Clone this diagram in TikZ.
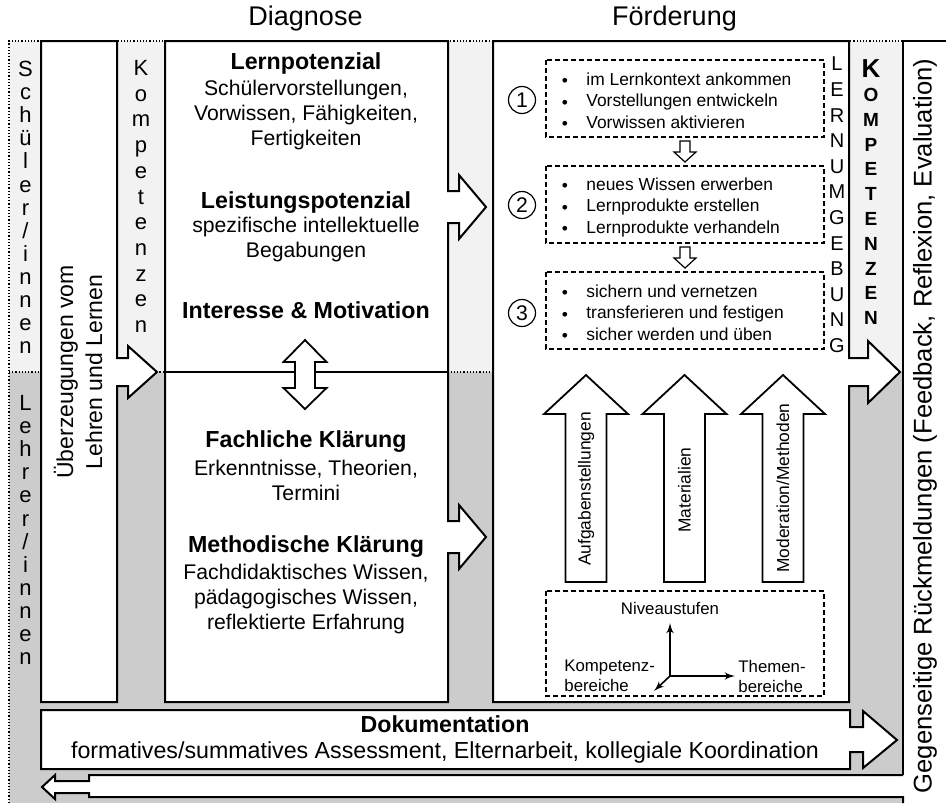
\documentclass[tikz,border=0pt]{standalone}
\usepackage{fontspec}
\setmainfont{Liberation Sans}
\usepackage{xcolor}
\usetikzlibrary{shapes,arrows,calc,positioning}

\definecolor{schueler}{RGB}{242,242,242}
\definecolor{lehrer}{RGB}{204,204,204}

\tikzstyle{kasten} = [draw, fill=white, line width=1pt]
\tikzstyle{pfeil} = [draw, fill=white, line width=0.9pt]
\tikzstyle{pfeil_klein} = [draw, fill=white, line width=0.6pt]
\tikzstyle{gestrichelt} = [draw, line width=0.6pt, dash pattern=on 2.5pt off 1.5pt]
\tikzstyle{gepunktet} = [draw, line width=0.6pt, densely dotted]
\tikzstyle{achse} = [draw, -latex', line width=0.8pt]
\tikzstyle{ueberschrift} = [inner sep=0pt, anchor=mid, font=\fontsize{13.5}{16}\selectfont]
\tikzstyle{titel} = [inner sep=0pt, anchor=mid, font=\bfseries\fontsize{11.6}{14}\selectfont]
\tikzstyle{text_diag} = [inner sep=0pt, align=center, font=\fontsize{10.6}{12.5}\selectfont]
\tikzstyle{text_doku} = [inner sep=0pt, anchor=mid, font=\fontsize{11.6}{14}\selectfont]
\tikzstyle{liste} = [inner sep=0pt, align=left, font=\fontsize{8.7}{10.75}\selectfont]
\tikzstyle{klein} = [inner sep=0pt, align=left, font=\fontsize{8.4}{10}\selectfont]
\tikzstyle{senkrecht} = [inner sep=0pt, rotate=90, font=\fontsize{8.7}{10}\selectfont]
\tikzstyle{stapel} = [inner sep=0pt, align=center, font=\fontsize{11}{11.55}\selectfont]
\tikzstyle{kreis} = [circle, draw, line width=0.6pt, minimum size=13.5pt, inner sep=0pt, font=\fontsize{10.6}{12}\selectfont]

\begin{document}
\begin{tikzpicture}[x=0.5pt, y=-0.5pt]

\useasboundingbox (0,0) rectangle (946,803);
\fill[white] (0,0) rectangle (946,803);

\fill[schueler] (9,41) rectangle (903,372);
\fill[lehrer] (9,372) rectangle (903,803);
\path[gepunktet] (9,803) -- (9,41) -- (903,41);
\path[gepunktet] (9,372) -- (903,372);
\draw[line width=1pt] (903,775) -- (903,41) -- (946,41);

\path[kasten] (903,775) -- (89,775) -- (89,781) -- (55,781) -- (55,775) -- (42,787) -- (55,799) -- (55,793) -- (89,793) -- (89,797) -- (903,797) -- (903,803);

\path[kasten] (41,41) -- (117,41) -- (117,358) -- (128,358) -- (128,346) -- (157,372) -- (128,398) -- (128,386) -- (117,386) -- (117,702) -- (41,702) -- cycle;

\path[kasten] (165,41) -- (448,41) -- (448,191) -- (459,191) -- (459,175) -- (486,207) -- (459,239) -- (459,223) -- (448,223) -- (448,521) -- (459,521) -- (459,505) -- (486,537) -- (459,569) -- (459,553) -- (448,553) -- (448,702) -- (165,702) -- cycle;
\draw[line width=1pt] (165,372) -- (448,372);

\path[kasten] (493,41) -- (849,41) -- (849,358) -- (868,358) -- (868,341) -- (900,372) -- (868,403) -- (868,386) -- (849,386) -- (849,702) -- (493,702) -- cycle;

\path[kasten] (41,710) -- (850,710) -- (850,727) -- (863,727) -- (863,711) -- (897,740) -- (863,768) -- (863,752) -- (850,752) -- (850,769) -- (41,769) -- cycle;

\path[pfeil] (295,362) -- (283.5,362) -- (305,340) -- (326.5,362) -- (315,362) -- (315,388) -- (326.5,388) -- (305,409) -- (283.5,388) -- (295,388) -- cycle;

\path[pfeil, shift={(586,0)}] (-20.5,582) -- (-20.5,414) -- (-42,414) -- (0,375) -- (42,414) -- (20.5,414) -- (20.5,582) -- cycle;
\path[pfeil, shift={(684.5,0)}] (-20.5,582) -- (-20.5,414) -- (-42,414) -- (0,375) -- (42,414) -- (20.5,414) -- (20.5,582) -- cycle;
\path[pfeil, shift={(783,0)}] (-20.5,582) -- (-20.5,414) -- (-42,414) -- (0,375) -- (42,414) -- (20.5,414) -- (20.5,582) -- cycle;

\path[pfeil_klein, shift={(685,141)}] (-5,0) -- (5,0) -- (5,11) -- (11,11) -- (0,21) -- (-11,11) -- (-5,11) -- cycle;
\path[pfeil_klein, shift={(685,247)}] (-5,0) -- (5,0) -- (5,11) -- (11,11) -- (0,21) -- (-11,11) -- (-5,11) -- cycle;

\path[gestrichelt] (546,60) rectangle (824,137);
\path[gestrichelt] (546,166) rectangle (824,243);
\path[gestrichelt] (546,272) rectangle (824,349);
\path[gestrichelt] (546,591) rectangle (824,696);

\node[ueberschrift] (diagnose) at (305.5,20.5) {Diagnose};
\node[ueberschrift] (foerderung) at (674.5,20.5) {Förderung};

\node[titel] (lernpot) at (306,64) {Lernpotenzial};
\node[text_diag] (lernpot_text) at (306,115) {Schülervorstellungen,\\Vorwissen, Fähigkeiten,\\Fertigkeiten};
\node[titel] (leistpot) at (306,203) {Leistungspotenzial};
\node[text_diag] (leistpot_text) at (306,240) {spezifische intellektuelle\\Begabungen};
\node[titel] (interesse) at (306,313) {Interesse \& Motivation};
\node[titel] (fachlich) at (306,442) {Fachliche Klärung};
\node[text_diag] (fachlich_text) at (306,480) {Erkenntnisse, Theorien,\\Termini};
\node[titel] (methodisch) at (306,547) {Methodische Klärung};
\node[text_diag] (methodisch_text) at (306,599) {Fachdidaktisches Wissen,\\pädagogisches Wissen,\\reflektierte Erfahrung};

\node[stapel] (schueler) at (25.5,207.5) {S\\c\\h\\ü\\l\\e\\r\\/\\i\\n\\n\\e\\n};
\node[stapel] (lehrer) at (25.5,530) {L\\e\\h\\r\\e\\r\\/\\i\\n\\n\\e\\n};
\node[stapel, font=\fontsize{11}{12.85}\selectfont] (komp_links) at (141,196.5) {K\\o\\m\\p\\e\\t\\e\\n\\z\\e\\n};
\node[stapel, font=\fontsize{10}{12.8}\selectfont] (lernumgebung) at (837,205) {L\\E\\R\\N\\U\\M\\G\\E\\B\\U\\N\\G};
\node[titel, font=\bfseries\fontsize{13}{14}\selectfont] (komp_k) at (871,72) {K};
\node[stapel, font=\bfseries\fontsize{9.5}{12.4}\selectfont] (komp_rechts) at (871,206.5) {O\\M\\P\\E\\T\\E\\N\\Z\\E\\N};

\node[text_diag, rotate=90, font=\fontsize{11.5}{14.5}\selectfont] (ueberzeugung) at (78,372) {Überzeugungen vom\\Lehren und Lernen};
\node[inner sep=0pt, rotate=90, font=\fontsize{12.8}{14}\selectfont] (rueckmeldung) at (925,426) {Gegenseitige Rückmeldungen (Feedback, Reflexion, Evaluation)};

\node[titel] (doku) at (445,727) {Dokumentation};
\node[text_doku] (doku_text) at (445,753) {formatives/summatives Assessment, Elternarbeit, kollegiale Koordination};

\node[kreis] (eins) at (522,100) {1};
\node[kreis] (zwei) at (522,205) {2};
\node[kreis] (drei) at (522,313) {3};

\node[liste, align=center] (punkte1) at (565,104) {•\\•\\•};
\node[liste, anchor=west] (liste1) at (586,100.5) {im Lernkontext ankommen\\Vorstellungen entwickeln\\Vorwissen aktivieren};
\node[liste, align=center] (punkte2) at (565,209) {•\\•\\•};
\node[liste, anchor=west] (liste2) at (586,207) {neues Wissen erwerben\\Lernprodukte erstellen\\Lernprodukte verhandeln};
\node[liste, align=center] (punkte3) at (565,316) {•\\•\\•};
\node[liste, anchor=west] (liste3) at (586,312.5) {sichern und vernetzen\\transferieren und festigen\\sicher werden und üben};

\node[senkrecht] (aufgaben) at (586,489) {Aufgabenstellungen};
\node[senkrecht] (materialien) at (684.5,490) {Materialien};
\node[senkrecht] (moderation) at (783,488) {Moderation/Methoden};

\coordinate (ursprung) at (670,676);
\coordinate (niveau_ende) at (670,623);
\coordinate (thema_ende) at (735,676);
\coordinate (komp_ende) at (654,691);
\node[klein, anchor=mid] (niveau) at (670,609) {Niveaustufen};
\node[klein, anchor=west] (kompbereich) at (564,676) {Kompetenz-\\bereiche};
\node[klein, anchor=west] (thema) at (738,676) {Themen-\\bereiche};

\path[achse] (ursprung) -- (niveau_ende);
\path[achse] (ursprung) -- (thema_ende);
\path[achse] (ursprung) -- (komp_ende);

\end{tikzpicture}
\end{document}
